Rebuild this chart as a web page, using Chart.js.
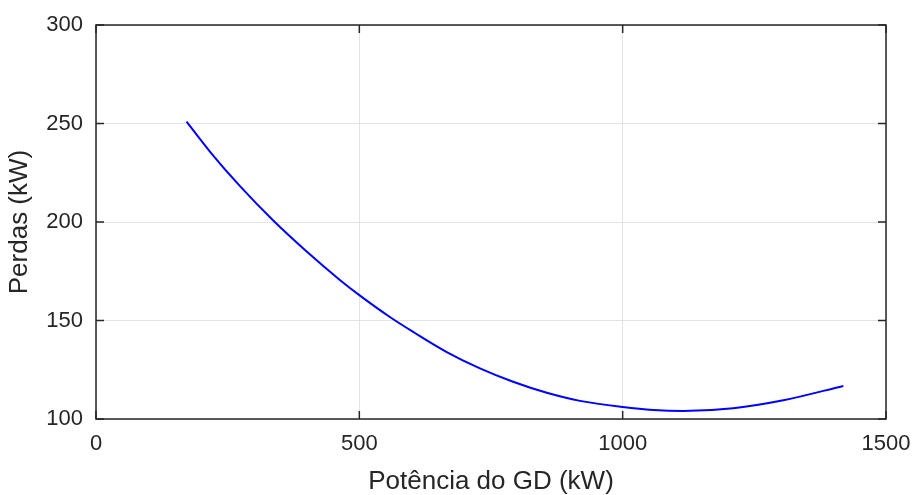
<!DOCTYPE html>
<html lang="pt">

<head>
  <meta charset="UTF-8" />
  <title>Perdas x Potência do GD</title>
  <script src="https://cdn.jsdelivr.net/npm/chart.js"></script>
  <style>
    html, body {
      margin: 0;
      padding: 0;
      background: #ffffff;
    }
  </style>
</head>

<body>

  <canvas id="perdasChart" width="912" height="495"></canvas>

  <script>
    // Potência do GD (kW)
    const potencia = [172, 217, 273, 337, 400, 463, 500, 558, 603, 666, 729, 792, 856, 919, 1000, 1058, 1115, 1210, 1305, 1419];
    // Perdas (kW) correspondentes
    const perdas = [250.9, 235.5, 218.3, 200.6, 185.0, 170.6, 162.9, 151.8, 144.1, 134.0, 125.7, 118.9, 113.3, 109.2, 106.1, 104.6, 104.1, 105.5, 109.5, 116.8];

    // Ticks dos eixos
    const xTicks = [0, 500, 1000, 1500];
    const yTicks = [100, 150, 200, 250, 300];

    const pontos = potencia.map((p, i) => ({ x: p, y: perdas[i] }));

    // Moldura e marcas de tick para dentro (estilo MATLAB)
    const molduraPlugin = {
      id: 'moldura',
      afterDatasetsDraw(chart) {
        const { ctx, chartArea: a, scales } = chart;
        const len = 8;
        ctx.save();
        ctx.strokeStyle = '#262626';
        ctx.lineWidth = 1.5;
        ctx.strokeRect(a.left, a.top, a.right - a.left, a.bottom - a.top);
        ctx.beginPath();
        xTicks.forEach(v => {
          const px = scales.x.getPixelForValue(v);
          ctx.moveTo(px, a.bottom); ctx.lineTo(px, a.bottom - len);
          ctx.moveTo(px, a.top); ctx.lineTo(px, a.top + len);
        });
        yTicks.forEach(v => {
          const py = scales.y.getPixelForValue(v);
          ctx.moveTo(a.left, py); ctx.lineTo(a.left + len, py);
          ctx.moveTo(a.right, py); ctx.lineTo(a.right - len, py);
        });
        ctx.stroke();
        ctx.restore();
      }
    };

    const fonte = 'Liberation Sans, Arial, sans-serif';
    const ctx = document.getElementById('perdasChart').getContext('2d');

    new Chart(ctx, {
      type: 'line',
      data: {
        datasets: [{
          label: 'Perdas',
          data: pontos,
          borderColor: '#0000ff',
          borderWidth: 2,
          pointRadius: 0,
          fill: false,
          cubicInterpolationMode: 'monotone'
        }]
      },
      options: {
        responsive: false,
        animation: false,
        layout: {
          padding: { top: 25, right: 26, left: 0, bottom: 0 }
        },
        plugins: {
          legend: { display: false },
          tooltip: { enabled: false }
        },
        scales: {
          x: {
            type: 'linear',
            min: 0,
            max: 1500,
            afterBuildTicks: scale => { scale.ticks = xTicks.map(v => ({ value: v })); },
            afterFit: scale => {
              scale.height = 76;
              scale.paddingLeft = 0;
              scale.paddingRight = 0;
            },
            grid: { color: '#e3e3e3', drawTicks: false, lineWidth: 1 },
            border: { display: false },
            ticks: {
              color: '#262626',
              font: { family: fonte, size: 22 },
              padding: 12,
              maxRotation: 0,
              callback: v => String(v)
            },
            title: {
              display: true,
              text: 'Potência do GD (kW)',
              color: '#262626',
              font: { family: fonte, size: 26 },
              padding: { top: 0, bottom: -2 }
            }
          },
          y: {
            min: 100,
            max: 300,
            afterBuildTicks: scale => { scale.ticks = yTicks.map(v => ({ value: v })); },
            afterFit: scale => {
              scale.width = 96;
              scale.paddingTop = 0;
              scale.paddingBottom = 0;
            },
            grid: { color: '#e3e3e3', drawTicks: false, lineWidth: 1 },
            border: { display: false },
            ticks: {
              color: '#262626',
              font: { family: fonte, size: 22 },
              padding: 13,
              callback: v => String(v)
            },
            title: {
              display: true,
              text: 'Perdas (kW)',
              color: '#262626',
              font: { family: fonte, size: 26 },
              padding: { top: 4, bottom: 0 }
            }
          }
        }
      },
      plugins: [molduraPlugin]
    });
  </script>

</body>

</html>
